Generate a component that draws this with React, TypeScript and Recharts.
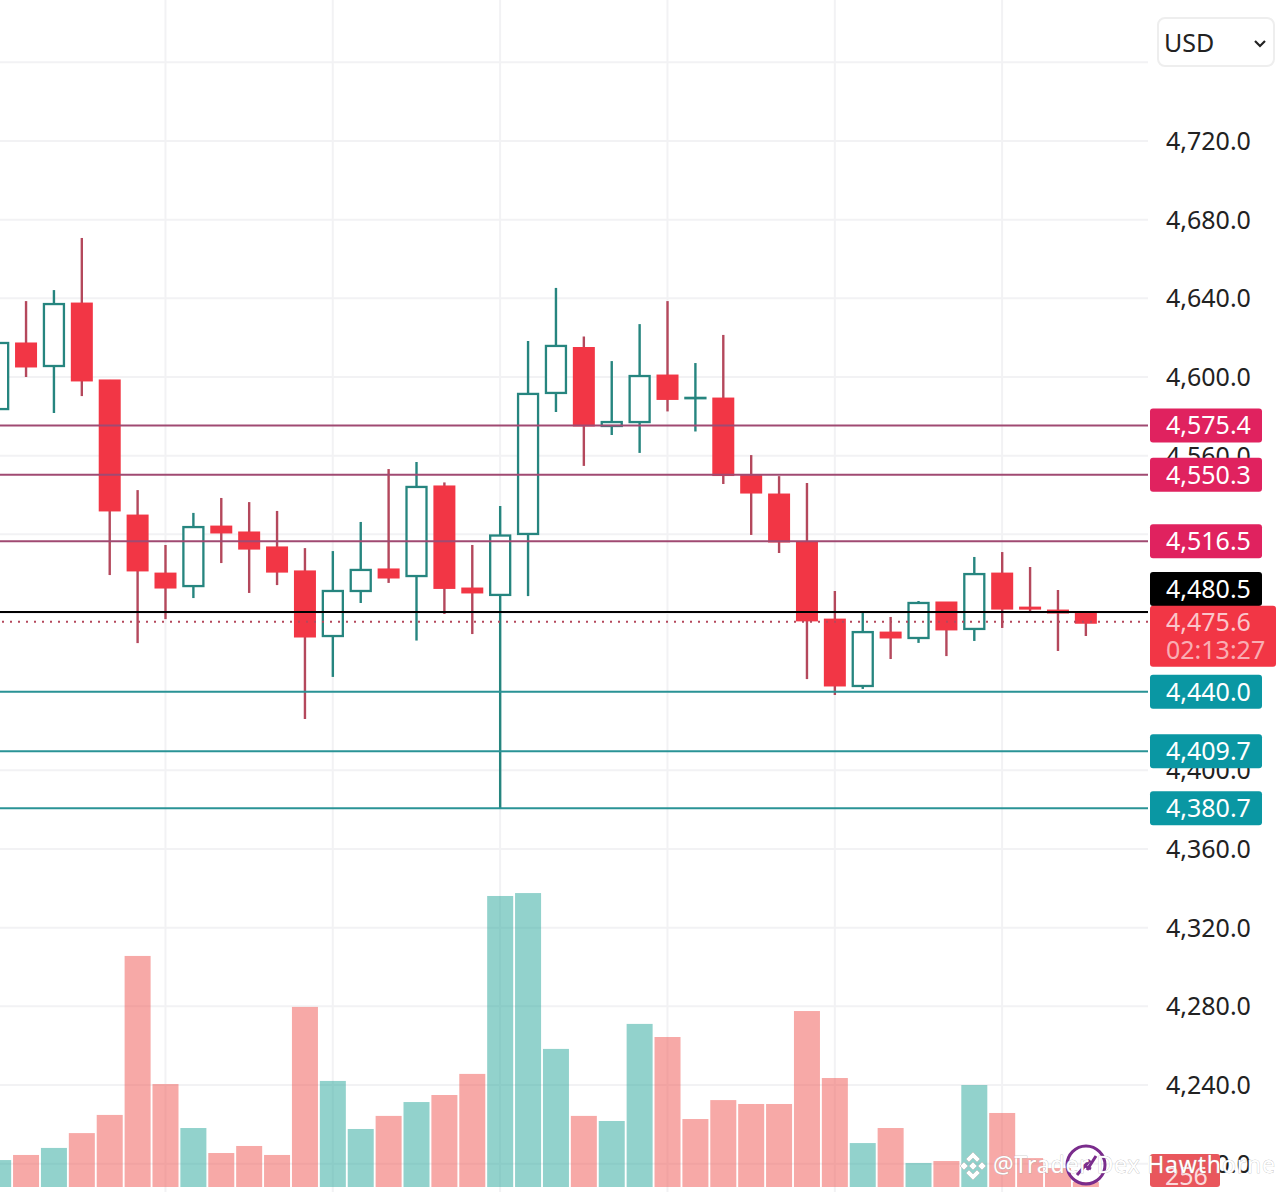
import React from 'react';
import { ComposedChart, Bar, XAxis, YAxis, CartesianGrid, ReferenceLine } from 'recharts';

// candle values, one entry per bar (first bar is cut off by the left edge)
const opens = [4583.7, 4617.3, 4605.6, 4637.6, 4598.5, 4529.8, 4500.3, 4493.7, 4524.2, 4521.2, 4513.6, 4501.4, 4468.3, 4491.2, 4502.4, 4498.8, 4544.6, 4492.7, 4489.2, 4520.2, 4591.9, 4615.0, 4575.1, 4577.1, 4601.0, 4589.2, 4589.3, 4549.9, 4540.5, 4516.1, 4476.9, 4442.9, 4470.3, 4467.3, 4485.6, 4471.9, 4500.3, 4483.0, 4481.5, 4480.0];
const closes = [4617.3, 4605.1, 4637.1, 4598.0, 4531.9, 4501.4, 4492.7, 4523.7, 4520.7, 4512.5, 4500.8, 4467.8, 4491.2, 4501.9, 4497.8, 4544.1, 4492.5, 4490.2, 4519.4, 4591.4, 4615.8, 4575.1, 4577.1, 4600.5, 4588.6, 4589.4, 4549.9, 4541.0, 4516.1, 4476.0, 4442.9, 4470.3, 4467.3, 4485.1, 4471.4, 4499.8, 4482.0, 4482.3, 4480.0, 4474.8];
const highs = [4625.0, 4638.6, 4644.2, 4670.7, 4598.5, 4542.5, 4514.6, 4530.9, 4538.5, 4536.4, 4531.9, 4513.0, 4511.5, 4526.3, 4553.2, 4556.8, 4546.4, 4514.6, 4534.4, 4618.3, 4645.3, 4620.6, 4608.1, 4626.9, 4638.6, 4607.1, 4621.4, 4560.3, 4549.6, 4546.1, 4491.2, 4480.0, 4478.0, 4486.1, 4485.6, 4508.5, 4511.0, 4503.4, 4491.7, 4480.0];
const lows = [4570.0, 4600.0, 4581.7, 4590.3, 4499.3, 4464.7, 4476.9, 4487.6, 4505.4, 4490.2, 4494.2, 4426.1, 4447.5, 4485.1, 4495.3, 4466.0, 4479.5, 4469.3, 4380.4, 4488.6, 4582.2, 4554.8, 4570.5, 4561.4, 4582.5, 4572.3, 4545.6, 4519.7, 4510.5, 4446.4, 4438.3, 4441.4, 4456.6, 4464.8, 4458.1, 4465.8, 4472.4, 4480.5, 4460.7, 4468.3];
const volumes = [1380, 1640, 2000, 2760, 3690, 11830, 5270, 3020, 1740, 2100, 1640, 9220, 5430, 2970, 3640, 4350, 4710, 5790, 14900, 15050, 7070, 3640, 3380, 8350, 7680, 3480, 4450, 4250, 4250, 9010, 5580, 2250, 3020, 1230, 1330, 5220, 3790, 1480, 970, 256];
const volumeUp = [true, false, true, false, false, false, false, true, false, false, false, false, true, true, false, true, false, false, true, true, true, false, true, true, false, false, false, false, false, false, false, true, false, true, false, true, false, false, false, false];

const priceTicks = [4760, 4720, 4680, 4640, 4600, 4560, 4520, 4480, 4440, 4400, 4360, 4320, 4280, 4240, 4200];
const timeTicks = [6, 12, 18, 24, 30, 36];

const resistanceLevels = [4575.4, 4550.3, 4516.5];
const supportLevels = [4440.0, 4409.7, 4380.7];
const lastPrice = 4475.6;
const markPrice = 4480.5;
const countdown = '02:13:27';
const lastVolume = '256';
const tagPrices = [...resistanceLevels, ...supportLevels, markPrice, lastPrice];

const chartData = opens.map((open, i) => ({
  slot: i,
  open,
  close: closes[i],
  high: highs[i],
  low: lows[i],
  range: [lows[i], highs[i]],
  volume: volumes[i],
  up: volumeUp[i],
}));

const FONT = '"Noto Sans", sans-serif';
const RED = '#f23645';
const RED_WICK = '#b4485c';
const TEAL = '#26857f';
const CRIMSON_LINE = '#a04a72';
const CRIMSON_TAG = '#e0225f';
const TEAL_LINE = '#2a9396';
const TEAL_TAG = '#0a97a3';
const TAG_X = 1150;
const SLOT_DOMAIN = [0.068, 41.23];

const formatPrice = (v: number) =>
  v.toLocaleString('en-US', { minimumFractionDigits: 1, maximumFractionDigits: 1 });

// the top tick sits behind the currency box in the original
const formatTick = (v: number) => (v === 4760 ? '' : formatPrice(v));

const CandleShape = (props: any) => {
  const { x, y, width, height, payload } = props;
  const unit = Math.abs(height) / (payload.high - payload.low);
  const isUp = payload.close > payload.open;
  const bodyTop = y + (payload.high - Math.max(payload.open, payload.close)) * unit;
  const bodyBottom = y + (payload.high - Math.min(payload.open, payload.close)) * unit;
  const cx = x + width / 2;
  const wick = isUp ? TEAL : RED_WICK;

  return (
    <g>
      <line x1={cx} x2={cx} y1={y} y2={y + Math.abs(height)} stroke={wick} strokeWidth={2.4} />
      {isUp ? (
        <rect x={x + 1} y={bodyTop} width={width - 2} height={bodyBottom - bodyTop} fill="#fff" stroke={TEAL} strokeWidth={2.3} />
      ) : (
        <rect x={x} y={bodyTop - 0.5} width={width} height={Math.max(bodyBottom - bodyTop + 1, 3)} fill={RED} />
      )}
    </g>
  );
};

const VolumeShape = (props: any) => {
  const { x, y, width, height, payload } = props;
  return <rect x={x} y={y} width={width} height={height} fill={payload.up ? '#26a69a' : '#ef5350'} fillOpacity={0.5} />;
};

// price tags sit on their own mirrored axis so they cover the normal tick labels
const TagTick = (props: any) => {
  const { y, payload } = props;
  const value = payload.value;

  if (value === lastPrice) {
    return (
      <g>
        <rect x={TAG_X} y={y - 16} width={126} height={61} rx={3} fill={RED} />
        <text x={TAG_X + 16} y={y + 9} fontSize={25} fontFamily={FONT} fill="#fff" fillOpacity={0.72}>
          {formatPrice(value)}
        </text>
        <text x={TAG_X + 16} y={y + 37} fontSize={25} fontFamily={FONT} fill="#fff" fillOpacity={0.6}>
          {countdown}
        </text>
      </g>
    );
  }

  // the black tag is pushed up out of the way of the last price tag
  const cy = value === markPrice ? y - 23 : y;
  const color = value === markPrice ? '#000' : resistanceLevels.includes(value) ? CRIMSON_TAG : TEAL_TAG;
  return (
    <g>
      <rect x={TAG_X} y={cy - 17} width={112} height={34} rx={3} fill={color} />
      <text x={TAG_X + 16} y={cy + 9} fontSize={25} fontFamily={FONT} fill="#fff">
        {formatPrice(value)}
      </text>
    </g>
  );
};

const Watermark = () => (
  <svg width={1284} height={1192} style={{ position: 'absolute', left: 0, top: 0, pointerEvents: 'none' }}>
    <rect x={1150} y={1154} width={70} height={33} rx={3} fill="#e9565c" />
    <text x={1165} y={1185} fontSize={25} fontFamily={FONT} fill="#fff" fillOpacity={0.8}>{lastVolume}</text>
    <circle cx={1086} cy={1165} r={19} fill="none" stroke="#7a2c8c" strokeWidth={3} />
    <path d="M1077 1175 L1090 1160 M1087 1170 L1096 1156 M1083 1165 L1091 1169" stroke="#7a2c8c" strokeWidth={3} fill="none" />
    <g fill="#fff" stroke="#b9b9b9" strokeWidth={0.6}>
      <polygon points="973,1152 980,1159 977,1162 973,1158 969,1162 966,1159" />
      <polygon points="973,1180 980,1173 977,1170 973,1174 969,1170 966,1173" />
      <polygon points="960,1166 964,1162 968,1166 964,1170" />
      <polygon points="978,1166 982,1162 986,1166 982,1170" />
      <polygon points="973,1162 977,1166 973,1170 969,1166" />
    </g>
    <text x={993} y={1173} fontSize={23} textLength={282} fontFamily={FONT} fill="#fff" stroke="#a8a8a8" strokeWidth={0.5} paintOrder="stroke">
      @Trader Dex Hawthorne
    </text>
  </svg>
);

const CurrencySelect = () => (
  <div
    style={{
      position: 'absolute',
      left: 1157,
      top: 17,
      width: 118,
      height: 50,
      boxSizing: 'border-box',
      background: '#fff',
      border: '2px solid #eeeeee',
      borderRadius: 8,
      fontFamily: FONT,
      fontSize: 25,
      lineHeight: '46px',
      paddingLeft: 5,
      color: '#222',
    }}
  >
    USD
    <svg width={14} height={10} style={{ position: 'absolute', right: 6, top: 20 }}>
      <path d="M2 2 L7 7 L12 2" fill="none" stroke="#222" strokeWidth={2.2} />
    </svg>
  </div>
);

export default function App() {
  return (
    <div style={{ position: 'relative', width: 1284, height: 1192, overflow: 'hidden', background: '#fff' }}>
      <style>{'body{margin:0}'}</style>
      <ComposedChart width={1284} height={1192} data={chartData} margin={{ top: 0, right: 0, bottom: 0, left: 0 }}>
        <CartesianGrid stroke="#f2f2f4" strokeWidth={2} syncWithTicks xAxisId="candle" yAxisId="price" />
        <XAxis xAxisId="candle" dataKey="slot" type="number" scale="linear" domain={SLOT_DOMAIN} ticks={timeTicks} allowDataOverflow hide />
        <XAxis xAxisId="vol" dataKey="slot" type="number" scale="linear" domain={SLOT_DOMAIN} ticks={timeTicks} allowDataOverflow hide />
        <YAxis
          yAxisId="price"
          orientation="right"
          width={136}
          domain={[4185.6, 4791.7]}
          ticks={priceTicks}
          interval={0}
          allowDataOverflow
          axisLine={false}
          tickLine={false}
          tickSize={0}
          tickMargin={18}
          tick={{ fontSize: 25, fontFamily: FONT, fill: '#222' }}
          tickFormatter={formatTick}
        />
        <YAxis
          yAxisId="tags"
          orientation="right"
          mirror
          width={1}
          domain={[4185.6, 4791.7]}
          ticks={tagPrices}
          interval={0}
          allowDataOverflow
          axisLine={false}
          tickLine={false}
          tick={TagTick}
        />
        <YAxis yAxisId="volume" orientation="left" width={0} domain={[-256, 60774]} allowDataOverflow hide />

        {resistanceLevels.map((level) => (
          <ReferenceLine key={level} xAxisId="candle" yAxisId="price" y={level} stroke={CRIMSON_LINE} strokeWidth={2} />
        ))}
        {supportLevels.map((level) => (
          <ReferenceLine key={level} xAxisId="candle" yAxisId="price" y={level} stroke={TEAL_LINE} strokeWidth={2} />
        ))}
        <ReferenceLine xAxisId="candle" yAxisId="price" y={markPrice} stroke="#000" strokeWidth={2} />
        <ReferenceLine xAxisId="candle" yAxisId="price" y={lastPrice} stroke="#b4485c" strokeWidth={2} strokeDasharray="2 6" />

        <Bar xAxisId="vol" yAxisId="volume" dataKey="volume" barSize={26} shape={VolumeShape} isAnimationActive={false} />
        <Bar xAxisId="candle" yAxisId="price" dataKey="range" barSize={22} shape={CandleShape} isAnimationActive={false} />
      </ComposedChart>
      <Watermark />
      <CurrencySelect />
    </div>
  );
}
